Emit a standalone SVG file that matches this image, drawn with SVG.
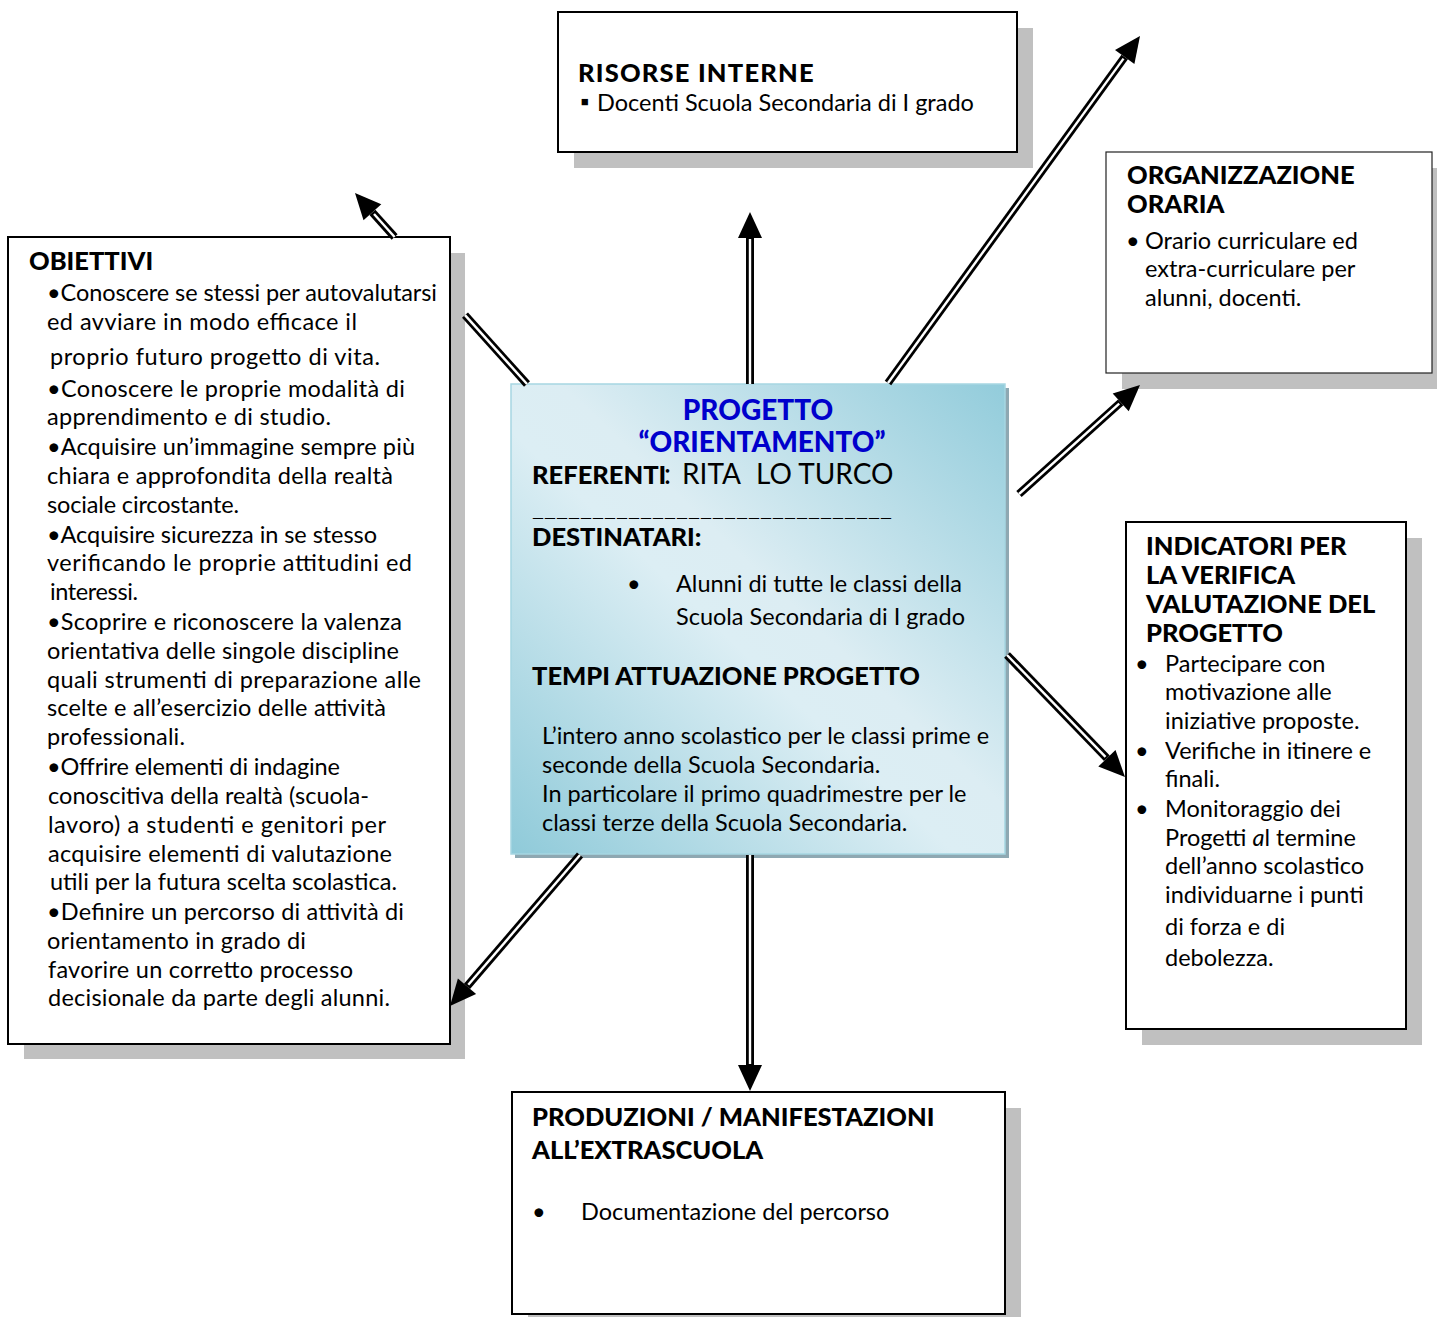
<svg xmlns="http://www.w3.org/2000/svg" width="1437" height="1317" viewBox="0 0 1437 1317">
<style>
  text { font-family: Lato, "Open Sans", "Liberation Sans", sans-serif; fill: #000; }
  .b { font-size: 23.5px; }
  .h { font-size: 25.5px; font-weight: 900; }
  .title { font-size: 28px; font-weight: 900; fill: #0000cc; }
  .box { fill: #fff; stroke: #000; stroke-width: 2; }
  .thin { fill: #fff; stroke: #222; stroke-width: 1.2; }
  .shadow { fill: #c0c0c0; }
  .outer { stroke: #000; stroke-width: 8; fill: none; }
  .inner { stroke: #fff; stroke-width: 2.4; fill: none; }
  .head { fill: #000; }
</style>
<defs>
  <linearGradient id="cg" x1="0" y1="1" x2="1" y2="0">
    <stop offset="0" stop-color="#8fcad9"/>
    <stop offset="0.45" stop-color="#dceef4"/>
    <stop offset="0.55" stop-color="#dcedf3"/>
    <stop offset="1" stop-color="#92ccdb"/>
  </linearGradient>
</defs>
<rect width="1437" height="1317" fill="#fff"/>

<g id="risorse">
  <rect class="shadow" x="574" y="28" width="459" height="140"/>
  <rect class="box" x="558" y="12" width="459" height="140"/>
  <text class="h" x="578" y="82" font-size="26" letter-spacing="1.2">RISORSE INTERNE</text>
  <text class="b" x="580" y="110" font-size="15">▪</text>
  <text class="b" x="597" y="111">Docenti Scuola Secondaria di I grado</text>
</g>

<g id="organizzazione">
  <rect class="shadow" x="1122" y="168" width="326" height="221"/>
  <rect class="thin" x="1106" y="152" width="326" height="221"/>
  <text class="h" x="1127" y="184">ORGANIZZAZIONE</text>
  <text class="h" x="1127" y="213">ORARIA</text>
  <text class="b" x="1126" y="249">•</text>
  <text class="b" x="1145" y="249">Orario curriculare ed</text>
  <text class="b" x="1145" y="277">extra-curriculare per</text>
  <text class="b" x="1145" y="306">alunni, docenti.</text>
</g>

<g id="obiettivi">
  <rect class="shadow" x="24" y="253" width="441" height="806"/>
  <rect class="box" x="8" y="237" width="442" height="807"/>
  <text class="h" x="29" y="270">OBIETTIVI</text>
  <text class="b" x="47" y="301" textLength="390">•Conoscere se stessi per autovalutarsi</text>
  <text class="b" x="47" y="330" textLength="310">ed avviare in modo efficace il</text>
  <text class="b" x="50" y="365" textLength="330">proprio futuro progetto di vita.</text>
  <text class="b" x="47" y="397" textLength="358">•Conoscere le proprie modalità di</text>
  <text class="b" x="47" y="425" textLength="284">apprendimento e di studio.</text>
  <text class="b" x="47" y="455" textLength="368">•Acquisire un’immagine sempre più</text>
  <text class="b" x="47" y="484" textLength="346">chiara e approfondita della realtà</text>
  <text class="b" x="47" y="513" textLength="192">sociale circostante.</text>
  <text class="b" x="47" y="543" textLength="330">•Acquisire sicurezza in se stesso</text>
  <text class="b" x="47" y="571" textLength="365">verificando le proprie attitudini ed</text>
  <text class="b" x="50" y="600" textLength="88">interessi.</text>
  <text class="b" x="47" y="630" textLength="355">•Scoprire e riconoscere la valenza</text>
  <text class="b" x="47" y="659" textLength="352">orientativa delle singole discipline</text>
  <text class="b" x="47" y="688" textLength="374">quali strumenti di preparazione alle</text>
  <text class="b" x="47" y="716" textLength="339">scelte e all’esercizio delle attività</text>
  <text class="b" x="47" y="745" textLength="138">professionali.</text>
  <text class="b" x="47" y="775" textLength="293">•Offrire elementi di indagine</text>
  <text class="b" x="48" y="804" textLength="321">conoscitiva della realtà (scuola-</text>
  <text class="b" x="48" y="833" textLength="338">lavoro) a studenti e genitori per</text>
  <text class="b" x="48" y="862" textLength="344">acquisire elementi di valutazione</text>
  <text class="b" x="50" y="890" textLength="347">utili per la futura scelta scolastica.</text>
  <text class="b" x="47" y="920" textLength="357">•Definire un percorso di attività di</text>
  <text class="b" x="47" y="949" textLength="259">orientamento in grado di</text>
  <text class="b" x="48" y="978" textLength="305">favorire un corretto processo</text>
  <text class="b" x="48" y="1006" textLength="342">decisionale da parte degli alunni.</text>
</g>

<g id="progetto">
  <rect x="515" y="388" width="494" height="470" fill="#8ea8b2"/>
  <rect x="511" y="384" width="494" height="470" fill="url(#cg)" stroke="#a6d6e2" stroke-width="1.5"/>
  <text class="title" x="758" y="420" text-anchor="middle">PROGETTO</text>
  <text class="title" x="762" y="452" text-anchor="middle">“ORIENTAMENTO”</text>
  <text class="h" x="532" y="484">REFERENTI</text>
  <text font-size="28" x="664" y="484">:</text>
  <text font-size="28" x="682" y="484">RITA</text>
  <text font-size="28" x="756" y="484">LO TURCO</text>
  <text x="532" y="517" font-size="14" textLength="360" lengthAdjust="spacingAndGlyphs">______________________________</text>
  <text class="h" x="532" y="546">DESTINATARI:</text>
  <text class="b" x="627" y="592">•</text>
  <text class="b" x="676" y="592">Alunni di tutte le classi della</text>
  <text class="b" x="676" y="625">Scuola Secondaria di I grado</text>
  <text class="h" x="532" y="685">TEMPI ATTUAZIONE PROGETTO</text>
  <text class="b" x="542" y="744">L’intero anno scolastico per le classi prime e</text>
  <text class="b" x="542" y="773">seconde della Scuola Secondaria.</text>
  <text class="b" x="542" y="802">In particolare il primo quadrimestre per le</text>
  <text class="b" x="542" y="831">classi terze della Scuola Secondaria.</text>
</g>

<g id="indicatori">
  <rect class="shadow" x="1142" y="538" width="280" height="507"/>
  <rect class="box" x="1126" y="522" width="280" height="507"/>
  <text class="h" x="1146" y="555">INDICATORI PER</text>
  <text class="h" x="1146" y="584">LA VERIFICA</text>
  <text class="h" x="1146" y="613">VALUTAZIONE DEL</text>
  <text class="h" x="1146" y="642">PROGETTO</text>
  <text class="b" x="1135" y="672">•</text>
  <text class="b" x="1165" y="672">Partecipare con</text>
  <text class="b" x="1165" y="700">motivazione alle</text>
  <text class="b" x="1165" y="729">iniziative proposte.</text>
  <text class="b" x="1135" y="759">•</text>
  <text class="b" x="1165" y="759">Verifiche in itinere e</text>
  <text class="b" x="1165" y="787">finali.</text>
  <text class="b" x="1135" y="817">•</text>
  <text class="b" x="1165" y="817">Monitoraggio dei</text>
  <text class="b" x="1165" y="846">Progetti <tspan font-style="italic">a</tspan>l termine</text>
  <text class="b" x="1165" y="874">dell’anno scolastico</text>
  <text class="b" x="1165" y="903">individuarne i punti</text>
  <text class="b" x="1165" y="935" font-size="25">di forza e di</text>
  <text class="b" x="1165" y="966">debolezza.</text>
</g>

<g id="produzioni">
  <rect class="shadow" x="528" y="1108" width="493" height="222"/>
  <rect class="box" x="512" y="1092" width="493" height="222"/>
  <text class="h" x="532" y="1126">PRODUZIONI / MANIFESTAZIONI</text>
  <text class="h" x="532" y="1159">ALL’EXTRASCUOLA</text>
  <text class="b" x="532" y="1220">•</text>
  <text class="b" x="581" y="1220">Documentazione del percorso</text>
</g>

<g id="connectors">
  <g id="a1">
    <line class="outer" x1="527" y1="384" x2="465" y2="315.1"/>
    <line class="inner" x1="527" y1="384" x2="465" y2="315.1"/>
    <line class="outer" x1="394.6" y1="237" x2="372.4" y2="212.3"/>
    <line class="inner" x1="394.6" y1="237" x2="374" y2="214"/>
    <polygon class="head" points="355,193 381.3,204.3 363.5,220.3"/>
  </g>
  <g id="a2">
    <line class="outer" x1="750" y1="384" x2="750" y2="237"/>
    <line class="inner" x1="750" y1="384" x2="750" y2="239"/>
    <polygon class="head" points="750,212 762,238 738,238"/>
  </g>
  <g id="a3">
    <line class="outer" x1="888" y1="383" x2="1124.7" y2="57"/>
    <line class="inner" x1="888" y1="383" x2="1123.5" y2="58.6"/>
    <polygon class="head" points="1140,36 1134.4,64.1 1115,49.9"/>
  </g>
  <g id="a4">
    <line class="outer" x1="1019" y1="494" x2="1120.7" y2="402.4"/>
    <line class="inner" x1="1019" y1="494" x2="1119.2" y2="403.7"/>
    <polygon class="head" points="1140,385 1128.7,411.3 1112.7,393.5"/>
  </g>
  <g id="a5">
    <line class="outer" x1="1007" y1="655" x2="1106.9" y2="758.3"/>
    <line class="inner" x1="1007" y1="655" x2="1105.5" y2="756.9"/>
    <polygon class="head" points="1125,777 1098.3,766.6 1115.5,750"/>
  </g>
  <g id="a6">
    <line class="outer" x1="580" y1="855" x2="467" y2="986.3"/>
    <line class="inner" x1="580" y1="855" x2="468.3" y2="984.8"/>
    <polygon class="head" points="450,1006 457.9,978.5 476.1,994.1"/>
  </g>
  <g id="a7">
    <line class="outer" x1="750" y1="855" x2="750" y2="1066"/>
    <line class="inner" x1="750" y1="855" x2="750" y2="1064"/>
    <polygon class="head" points="750,1091 738,1065 762,1065"/>
  </g>
</g>
</svg>
